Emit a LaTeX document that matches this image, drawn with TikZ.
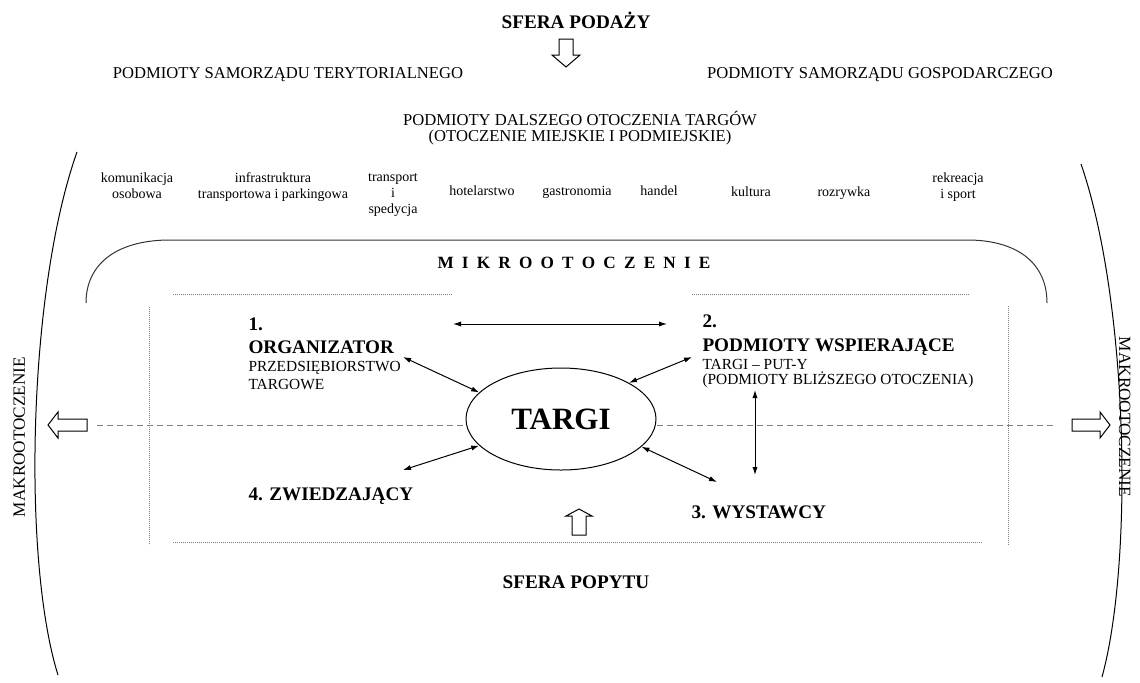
\documentclass[tikz,border=0pt]{standalone}
\usepackage{fontspec}
\setmainfont{Liberation Serif}
\usetikzlibrary{arrows.meta,shapes.geometric}

\newcommand{\gap}{\hspace{4.1pt}}

\begin{document}
\begin{tikzpicture}[x=0.5pt,y=-0.5pt,line width=0.5pt,
    title/.style={font=\fontsize{9.6}{11}\selectfont\bfseries,inner sep=0pt,anchor=base},
    actor/.style={font=\fontsize{9.6}{11}\selectfont\bfseries,inner sep=0pt,anchor=base west},
    actorsub/.style={font=\fontsize{7.7}{9}\selectfont,inner sep=0pt,anchor=base west,align=left},
    subject/.style={font=\fontsize{8.3}{8}\selectfont,inner sep=0pt,anchor=base,align=center},
    sector/.style={font=\fontsize{7}{8}\selectfont,inner sep=0pt,anchor=base,align=center},
    macro/.style={font=\fontsize{8.6}{10}\selectfont,inner sep=0pt,anchor=base},
    link/.style={{Latex[length=4pt,width=2.6pt]}-{Latex[length=4pt,width=2.6pt]}},
    dots/.style={gray,line width=0.4pt,dash pattern=on 0.4pt off 0.6pt},
    hollow/.style={draw,line width=0.5pt,fill=white}]
  \useasboundingbox (0,0) rectangle (1140,682);
  % Draw supply sphere
  \node[title] (podaz) at (576,28) {SFERA PODAŻY};
  \draw[hollow] (559,39) -- (573,39) -- (573,55) -- (580,55) -- (566,67)
    -- (552,55) -- (559,55) -- cycle;
  \node[subject] (terytorialny) at (288,78) {PODMIOTY SAMORZĄDU TERYTORIALNEGO};
  \node[subject] (gospodarczy) at (880,78) {PODMIOTY SAMORZĄDU GOSPODARCZEGO};
  % multi-line nodes sit on their last line
  \node[subject] (dalsze) at (580,141) {PODMIOTY DALSZEGO OTOCZENIA TARGÓW\\(OTOCZENIE MIEJSKIE I PODMIEJSKIE)};
  % Draw sectors of the city
  \node[sector] (komunikacja) at (137,198) {komunikacja\\osobowa};
  \node[sector] (infrastruktura) at (273,198) {infrastruktura\\transportowa i parkingowa};
  \node[sector] (transport) at (393,213) {transport\\i\\spedycja};
  \node[sector] (hotele) at (482,195) {hotelarstwo};
  \node[sector] (gastronomia) at (577,195) {gastronomia};
  \node[sector] (handel) at (659,195) {handel};
  \node[sector] (kultura) at (751,196) {kultura};
  \node[sector] (rozrywka) at (844,196) {rozrywka};
  \node[sector] (rekreacja) at (958,198) {rekreacja\\i sport};
  % Draw macro environment
  \draw (77,152) .. controls (28,290) and (22,560) .. (58,675);
  \draw (1081,164) .. controls (1128,300) and (1134,560) .. (1102,677);
  \node[macro,rotate=90] (makroL) at (25,437) {MAKROOTOCZENIE};
  \node[macro,rotate=-90] (makroR) at (1119,417) {MAKROOTOCZENIE};
  % Draw micro environment
  \draw[black!80] (86,303) .. controls (86,265) and (115,241) .. (167,240)
    -- (970,240) .. controls (1020,241) and (1047,265) .. (1047,303);
  \node[title,font=\fontsize{8.6}{10}\selectfont\bfseries] (mikro) at (574,268)
    {M\gap I\gap K\gap R\gap O\gap O\gap T\gap O\gap C\gap Z\gap E\gap N\gap I\gap E};
  \draw[dots] (173,294) -- (452,294);
  \draw[dots] (692,294) -- (970,294);
  \draw[dots] (173,542) -- (982,542);
  \draw[dots] (149,307) -- (149,545);
  \draw[dots] (1008,306) -- (1008,545);
  % Draw the fair
  \node[draw,ellipse,fill=white,inner sep=0pt,minimum width=95pt,minimum height=51pt,
    font=\fontsize{15.5}{17}\selectfont\bfseries] (targi) at (561,419) {TARGI};
  \coordinate (dashL) at (97,425);
  \coordinate (dashR) at (1055,425);
  \draw[gray,dash pattern=on 3pt off 2pt] (dashL) -- (dashL -| targi.west);
  \draw[gray,dash pattern=on 3pt off 2pt] (dashR -| targi.east) -- (dashR);
  \draw[hollow] (87,419) -- (58,419) -- (58,412) -- (48,425) -- (58,438)
    -- (58,431) -- (87,431) -- cycle;
  \draw[hollow] (1072,419) -- (1100,419) -- (1100,412) -- (1110,425) -- (1100,438)
    -- (1100,431) -- (1072,431) -- cycle;
  % Draw the actors
  \node[actor] (orgnr) at (248,330) {1.};
  \node[actor] (org) at (248,353) {ORGANIZATOR};
  \node[actorsub] (orgsub) at (248,389) {PRZEDSIĘBIORSTWO\\TARGOWE};
  \node[actor] (podnr) at (702,327) {2.};
  \node[actor] (pod) at (702,351) {PODMIOTY WSPIERAJĄCE};
  \node[actorsub] (podsub) at (702,384) {TARGI – PUT-Y\\[-1.5pt](PODMIOTY BLIŻSZEGO OTOCZENIA)};
  \node[actor] (wys) at (691,518) {3. WYSTAWCY};
  \node[actor] (zwi) at (248,500) {4. ZWIEDZAJĄCY};
  % Draw the links
  \coordinate (orgE) at (453,324);
  \coordinate (podW) at (667,324);
  \coordinate (orgS) at (403,357);
  \coordinate (zwiN) at (403,470);
  \coordinate (podS) at (692,357);
  \coordinate (wysN) at (717,482);
  \coordinate (podB) at (755,390);
  \coordinate (wysT) at (755,475);
  \draw[link] (orgE) -- (podW);
  \draw[link] (orgS) -- (targi.162);
  \draw[link] (zwiN) -- (targi.198);
  \draw[link] (podS) -- (targi.28);
  \draw[link] (wysN) -- (targi.-19);
  \draw[link] (podB) -- (wysT);
  % Draw demand sphere
  \draw[hollow] (572,535) -- (586,535) -- (586,516) -- (592,516) -- (579,509)
    -- (566,516) -- (572,516) -- cycle;
  \node[title] (popyt) at (576,588) {SFERA POPYTU};
\end{tikzpicture}
\end{document}
